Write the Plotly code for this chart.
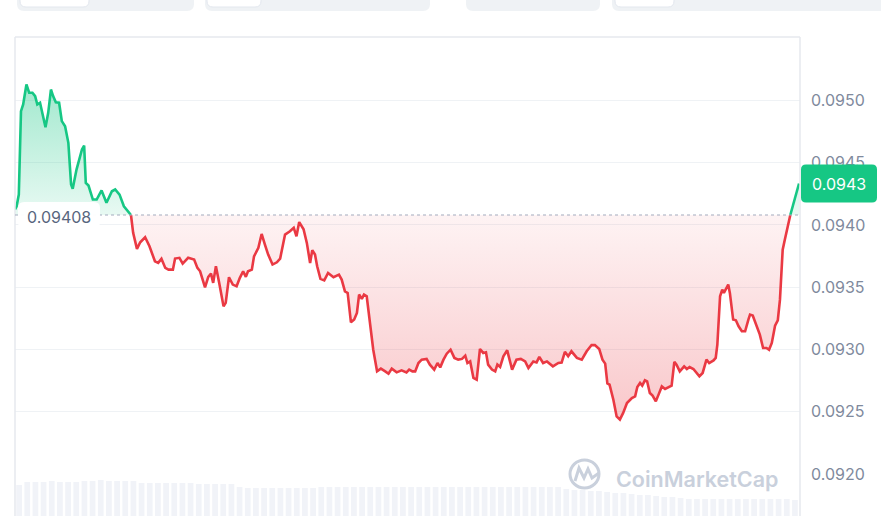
import numpy as np
import plotly.graph_objects as go

# ---------------- data ----------------
BASE = 0.09408          # reference (open) price
LAST = "0.0943"

# minutes since start of the 24h window
times = [
    0, 3, 7, 11, 15, 21, 26, 32, 37, 41,
    46, 51, 56, 61, 66, 70, 75, 81, 86, 92,
    98, 103, 106, 113, 123, 127, 130, 135, 143, 150,
    159, 168, 178, 184, 192, 200, 208, 213, 217, 224,
    230, 239, 247, 257, 263, 269, 276, 282, 290, 294,
    302, 308, 318, 329, 335, 340, 349, 355, 360, 364,
    369, 375, 383, 387, 393, 400, 407, 413, 419, 424,
    428, 435, 439, 447, 453, 459, 465, 473, 481, 487,
    496, 505, 512, 517, 522, 530, 536, 542, 546, 551,
    555, 561, 568, 575, 585, 595, 600, 606, 611, 617,
    623, 628, 632, 637, 641, 646, 652, 658, 665, 672,
    680, 686, 692, 701, 710, 719, 724, 730, 735, 741,
    747, 756, 762, 770, 776, 781, 787, 793, 800, 807,
    814, 821, 827, 831, 836, 842, 848, 854, 860, 865,
    869, 876, 882, 886, 891, 897, 904, 909, 913, 921,
    929, 937, 943, 952, 958, 963, 970, 977, 983, 988,
    998, 1004, 1010, 1016, 1022, 1032, 1041, 1050, 1059, 1065,
    1073, 1079, 1084, 1088, 1092, 1099, 1105, 1111, 1117, 1124,
    1133, 1139, 1143, 1148, 1152, 1157, 1161, 1166, 1171, 1177,
    1182, 1188, 1194, 1200, 1206, 1211, 1215, 1221, 1229, 1234,
    1239, 1246, 1252, 1257, 1263, 1270, 1275, 1283, 1287, 1290,
    1295, 1299, 1302, 1307, 1310, 1313, 1319, 1324, 1329, 1335,
    1341, 1347, 1350, 1355, 1361, 1368, 1374, 1380, 1385, 1390,
    1396, 1401, 1405, 1410, 1414, 1424, 1440,
]

prices = [
    0.094124, 0.094150, 0.094244, 0.094914, 0.094968, 0.095129, 0.095062, 0.095062, 0.095035, 0.094968,
    0.094982, 0.094874, 0.094785, 0.094901, 0.095088, 0.095035, 0.094986, 0.094982, 0.094834, 0.094793,
    0.094660, 0.094325, 0.094290, 0.094445, 0.094606, 0.094638, 0.094338, 0.094317, 0.094204, 0.094204,
    0.094277, 0.094178, 0.094271, 0.094285, 0.094244, 0.094150, 0.094110, 0.094080, 0.093937, 0.093808,
    0.093861, 0.093901, 0.093829, 0.093708, 0.093695, 0.093728, 0.093655, 0.093641, 0.093641, 0.093730,
    0.093736, 0.093690, 0.093736, 0.093722, 0.093655, 0.093628, 0.093499, 0.093583, 0.093609, 0.093535,
    0.093668, 0.093535, 0.093346, 0.093374, 0.093580, 0.093521, 0.093507, 0.093575, 0.093628, 0.093583,
    0.093628, 0.093641, 0.093748, 0.093816, 0.093928, 0.093842, 0.093762, 0.093682, 0.093700, 0.093730,
    0.093923, 0.093949, 0.093977, 0.093909, 0.094023, 0.093965, 0.093856, 0.093695, 0.093797, 0.093762,
    0.093668, 0.093567, 0.093555, 0.093615, 0.093580, 0.093601, 0.093561, 0.093467, 0.093454, 0.093218,
    0.093240, 0.093293, 0.093441, 0.093406, 0.093441, 0.093427, 0.093186, 0.092998, 0.092824, 0.092846,
    0.092824, 0.092805, 0.092846, 0.092816, 0.092832, 0.092816, 0.092838, 0.092824, 0.092824, 0.092891,
    0.092918, 0.092924, 0.092878, 0.092838, 0.092891, 0.092856, 0.092918, 0.092966, 0.092998, 0.092932,
    0.092918, 0.092924, 0.092950, 0.092891, 0.092904, 0.092771, 0.092757, 0.093004, 0.092972, 0.092977,
    0.092878, 0.092838, 0.092824, 0.092878, 0.092859, 0.092945, 0.092993, 0.092918, 0.092838, 0.092918,
    0.092924, 0.092904, 0.092851, 0.092904, 0.092896, 0.092940, 0.092891, 0.092904, 0.092886, 0.092864,
    0.092891, 0.092894, 0.092981, 0.092945, 0.092985, 0.092932, 0.092918, 0.092985, 0.093036, 0.093035,
    0.093004, 0.092918, 0.092886, 0.092727, 0.092717, 0.092596, 0.092462, 0.092436, 0.092490, 0.092570,
    0.092610, 0.092623, 0.092699, 0.092731, 0.092709, 0.092752, 0.092744, 0.092650, 0.092629, 0.092583,
    0.092637, 0.092703, 0.092683, 0.092699, 0.092709, 0.092900, 0.092878, 0.092824, 0.092864, 0.092843,
    0.092859, 0.092843, 0.092811, 0.092784, 0.092811, 0.092918, 0.092891, 0.092912, 0.092932, 0.093039,
    0.093427, 0.093481, 0.093454, 0.093494, 0.093521, 0.093454, 0.093240, 0.093234, 0.093186, 0.093146,
    0.093146, 0.093240, 0.093280, 0.093272, 0.093199, 0.093119, 0.093012, 0.093012, 0.092998, 0.093052,
    0.093191, 0.093234, 0.093400, 0.093802, 0.093883, 0.094080, 0.094333,
]

# volume (15-minute buckets, arbitrary units)
volume = [
    31, 34, 34, 34, 35, 34, 34, 34, 35, 35,
    36, 35, 35, 35, 35, 33, 33, 33, 33, 33,
    33, 33, 32, 32, 32, 32, 32, 29, 28, 28,
    28, 28, 28, 28, 28, 28, 28, 29, 29, 29,
    29, 29, 29, 29, 29, 29, 29, 29, 29, 29,
    29, 29, 29, 29, 29, 29, 29, 29, 29, 29,
    29, 29, 29, 29, 29, 29, 29, 27, 26, 26,
    25, 25, 24, 23, 23, 22, 21, 21, 20, 19,
    19, 18, 17, 17, 17, 17, 17, 17, 17, 17,
    17, 17, 17, 17, 17, 16,
]

tick_vals = [0.0920, 0.0925, 0.0930, 0.0935, 0.0940, 0.0945, 0.0950]
tick_text = ["0.0920", "0.0925", "0.0930", "0.0935", "0.0940", "0.0945", "0.0950"]

assert len(times) == len(prices)

# ---------------- styling ----------------
GREEN = "#16c784"
RED = "#ea3943"
GRID = "#eff2f5"
BORDER = "#e6e9ee"
TICK = "#808a9d"
FONT = "Inter"

t = np.array(times, dtype=float)
p = np.array(prices, dtype=float)
below = np.where(p < BASE)[0]
i0, i1 = below[0] - 1, below[-1] + 1
segments = [(0, i0, "g"), (i0, i1, "r"), (i1, len(p) - 1, "g")]

fig = go.Figure()

# volume bars
vol_x = [i * 15 + 7.5 for i in range(len(volume))]
fig.add_trace(go.Bar(x=vol_x, y=volume, yaxis="y2", marker_color="#f1f3f8",
                     marker_line_width=0, hoverinfo="skip"))

for a, b, kind in segments:
    xs = t[a:b + 1]
    ys = p[a:b + 1]
    fig.add_trace(go.Scatter(x=xs, y=[BASE] * len(xs), mode="lines",
                             line=dict(width=0), hoverinfo="skip"))
    if kind == "g":
        grad = dict(type="vertical", start=BASE, stop=float(p.max()),
                    colorscale=[[0, "rgba(22,199,132,0.10)"], [1, "rgba(22,199,132,0.40)"]])
        col = GREEN
    else:
        grad = dict(type="vertical", start=float(p.min()), stop=BASE,
                    colorscale=[[0, "rgba(234,57,67,0.28)"], [1, "rgba(234,57,67,0.06)"]])
        col = RED
    fig.add_trace(go.Scatter(x=xs, y=ys, mode="lines", fill="tonexty",
                             fillgradient=grad, line=dict(color=col, width=2.6),
                             hoverinfo="skip"))


def rrect(x0, y0, x1, y1, r):
    return (f"M {x0+r},{y0} L {x1-r},{y0} Q {x1},{y0} {x1},{y0+r} "
            f"L {x1},{y1-r} Q {x1},{y1} {x1-r},{y1} L {x0+r},{y1} "
            f"Q {x0},{y1} {x0},{y1-r} L {x0},{y0+r} Q {x0},{y0} {x0+r},{y0} Z")


shapes = []
# top tab buttons (partially visible page UI)
for (a, b) in [(2, 179), (190, 415), (451, 585), (597, 880)]:
    shapes.append(dict(type="path", xref="paper", yref="paper", xanchor=0, yanchor=0,
                       xsizemode="pixel", ysizemode="pixel",
                       path=rrect(a, 505, b, 530, 7), fillcolor="#eff2f5",
                       line=dict(width=0), layer="above"))
for (a, b) in [(5, 74), (192, 246), (600, 659)]:
    shapes.append(dict(type="path", xref="paper", yref="paper", xanchor=0, yanchor=0,
                       xsizemode="pixel", ysizemode="pixel",
                       path=rrect(a, 509, b, 530, 6), fillcolor="#ffffff",
                       line=dict(color="#e3e7ee", width=1), layer="above"))

# plot frame
shapes += [
    dict(type="line", xref="paper", yref="paper", x0=0, x1=1, y0=1, y1=1,
         line=dict(color=BORDER, width=1.5), layer="above"),
    dict(type="line", xref="paper", yref="paper", x0=0, x1=0, y0=0, y1=1,
         line=dict(color=BORDER, width=1.5), layer="above"),
    dict(type="line", xref="paper", yref="paper", x0=1, x1=1, y0=0, y1=1,
         line=dict(color=BORDER, width=1.5), layer="above"),
]
# dotted reference line
shapes.append(dict(type="line", xref="paper", yref="y", x0=0, x1=1, y0=BASE, y1=BASE,
                   line=dict(color="#a3abbd", width=1.2, dash="dot"), layer="above"))
# reference-price label box
shapes.append(dict(type="path", xref="paper", yref="y", xanchor=0, yanchor=BASE,
                   xsizemode="pixel", ysizemode="pixel",
                   path=rrect(3, -13, 85, 13, 6), fillcolor="rgba(255,255,255,0.96)",
                   line=dict(width=0), layer="above"))
# last-price tag
shapes.append(dict(type="path", xref="paper", yref="y", xanchor=1, yanchor=prices[-1],
                   xsizemode="pixel", ysizemode="pixel",
                   path=rrect(1, -19, 77, 19, 5), fillcolor=GREEN,
                   line=dict(width=0), layer="above"))
# watermark logo
shapes.append(dict(type="circle", xref="paper", yref="paper", xanchor=0, yanchor=0,
                   xsizemode="pixel", ysizemode="pixel",
                   x0=555, x1=584, y0=28, y1=56,
                   line=dict(color="#c9d0dc", width=3), layer="above"))
shapes.append(dict(type="path", xref="paper", yref="paper", xanchor=0, yanchor=0,
                   xsizemode="pixel", ysizemode="pixel",
                   path="M 560,35 L 564,48 L 569,38 L 573,47 L 577,38 L 584,43",
                   line=dict(color="#c9d0dc", width=3), layer="above"))

annotations = [
    dict(xref="paper", yref="y", x=0, y=BASE, xanchor="center", xshift=44, yshift=-2,
         text="0.09408", showarrow=False, font=dict(family=FONT, size=16, color="#58667e")),
    dict(xref="paper", yref="y", x=1, y=prices[-1], xanchor="center", xshift=39,
         text=LAST, showarrow=False, font=dict(family=FONT, size=16, color="#ffffff")),
    dict(xref="paper", yref="paper", x=(697 - 15) / 785, y=(516 - 479) / 479,
         xanchor="center", yanchor="middle", text="CoinMarketCap", showarrow=False,
         font=dict(family=FONT, size=21.5, color="#c9d0dc", weight=600)),
]

fig.update_layout(
    width=881, height=516,
    margin=dict(l=15, r=81, t=37, b=0),
    paper_bgcolor="#ffffff", plot_bgcolor="#ffffff",
    showlegend=False, bargap=0.3,
    font=dict(family=FONT),
    xaxis=dict(range=[0, 1441.8], visible=False, fixedrange=True),
    yaxis=dict(range=[0.091662, 0.09551], side="right", tickvals=tick_vals,
               ticktext=tick_text, showgrid=True, gridcolor=GRID, gridwidth=1,
               zeroline=False, showline=False, ticks="", ticklabelstandoff=10,
               tickfont=dict(family=FONT, size=16, color=TICK)),
    yaxis2=dict(domain=[0, 0.15], range=[0, 72], visible=False, showgrid=False,
                zeroline=False),
    shapes=shapes,
    annotations=annotations,
)

fig.write_html("out.html", config={"displayModeBar": False},
               post_script="document.body.style.margin='0';document.body.style.padding='0';")
